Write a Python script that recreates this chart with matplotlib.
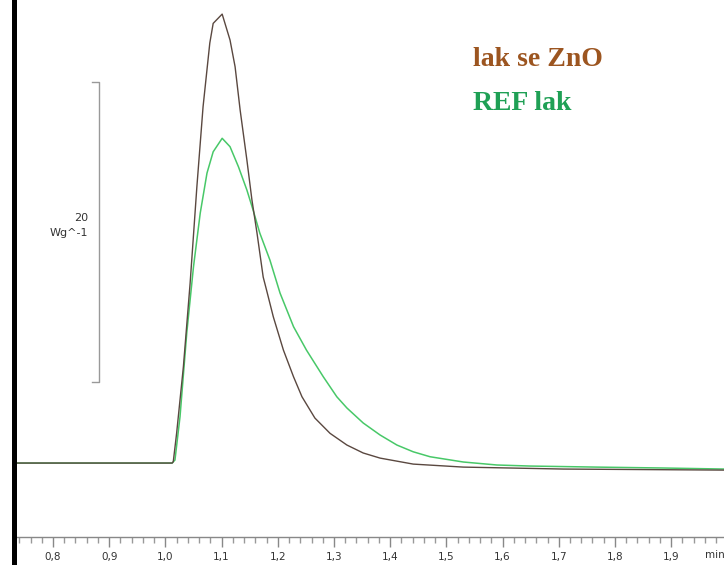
import numpy as np
import matplotlib
matplotlib.use("Agg")
import matplotlib.pyplot as plt
from matplotlib.lines import Line2D
from matplotlib.ticker import MultipleLocator, FuncFormatter

# DSC krivky: cas (min) a tepelny tok (W/g, relativne k zakladni linii)
t_zno = [0.729, 1.012, 1.014, 1.020, 1.032, 1.044, 1.056, 1.067, 1.079, 1.085,
         1.101, 1.115, 1.124, 1.133, 1.145, 1.154, 1.163, 1.174, 1.180, 1.192,
         1.210, 1.228, 1.243, 1.266, 1.293, 1.323, 1.352, 1.382, 1.441, 1.530,
         1.708, 1.994]
hf_zno = [0.0, 0.0, 0.09, 2.0, 6.42, 12.0, 18.42, 23.75, 28.0, 29.31,
          29.93, 28.2, 26.42, 23.53, 20.2, 17.53, 15.33, 12.4, 11.53, 9.75,
          7.53, 5.75, 4.42, 3.0, 1.98, 1.2, 0.67, 0.33, -0.07, -0.27,
          -0.4, -0.47]

t_ref = [0.729, 1.012, 1.017, 1.026, 1.038, 1.050, 1.062, 1.074, 1.085, 1.101,
         1.115, 1.130, 1.145, 1.156, 1.168, 1.186, 1.204, 1.228, 1.251, 1.281,
         1.305, 1.323, 1.352, 1.382, 1.412, 1.441, 1.471, 1.530, 1.590, 1.649,
         1.767, 1.885, 1.994]
hf_ref = [0.0, 0.0, 0.2, 3.09, 8.67, 13.09, 16.67, 19.33, 20.75, 21.65,
          21.09, 19.75, 18.2, 16.87, 15.33, 13.53, 11.33, 9.09, 7.53, 5.75,
          4.42, 3.67, 2.67, 1.87, 1.2, 0.75, 0.42, 0.07, -0.13, -0.2,
          -0.27, -0.33, -0.4]

labels = ["lak se ZnO", "REF lak"]
scale_value = 20      # W/g
scale_bottom = 5.4
scale_x = 0.882

W, H = 724, 565
fig = plt.figure(figsize=(W / 100, H / 100), dpi=100)
ax = fig.add_axes([13 / W, (H - 537) / H, 1 - 13 / W, 537 / H])
ax.set_xlim(0.7288, 1.994)
ax.set_ylim(-4.93, 30.87)

ax.plot(t_ref, hf_ref, color="#48c868", lw=1.1)
ax.plot(t_zno, hf_zno, color="#5a4840", lw=1.0)

# meritko 20 W/g
sb_top = scale_bottom + scale_value
ax.plot([scale_x - 0.0125, scale_x, scale_x, scale_x - 0.0125],
        [sb_top, sb_top, scale_bottom, scale_bottom], color="#999999", lw=1.0)
ax.text(scale_x - 0.019, scale_bottom + scale_value * 0.523, "%d\nWg^-1" % scale_value,
        ha="right", va="center", multialignment="right", fontsize=8,
        color="#333333", linespacing=1.6)

for s in ["left", "right", "top"]:
    ax.spines[s].set_visible(False)
ax.spines["bottom"].set_color("#888888")
ax.spines["bottom"].set_linewidth(1.0)
ax.set_yticks([])
ax.xaxis.set_major_locator(MultipleLocator(0.1))
ax.xaxis.set_minor_locator(MultipleLocator(0.02))
ax.xaxis.set_major_formatter(FuncFormatter(lambda v, p: ("%.1f" % v).replace(".", ",")))
ax.tick_params(axis="x", which="major", length=7, width=1, color="#888888",
               labelsize=7.5, labelcolor="#333333", pad=4)
ax.tick_params(axis="x", which="minor", length=4, width=1, color="#999999")
ax.text(1.960, -0.0335, "min", transform=ax.get_xaxis_transform(), fontsize=7.5,
        color="#333333", va="center", ha="left", clip_on=False)

# legenda jako text
fig.text(473 / W, 1 - 60 / H, labels[0], color="#9c5520", fontsize=20,
         fontweight="bold", family="Liberation Serif", va="center", ha="left")
fig.text(473 / W, 1 - 104 / H, labels[1], color="#1fa055", fontsize=20,
         fontweight="bold", family="Liberation Serif", va="center", ha="left")

# tlusta svisla cara vlevo
fig.add_artist(Line2D([14 / W, 14 / W], [0, 1], color="black", lw=3.6))

fig.savefig("out.png", dpi=100)
